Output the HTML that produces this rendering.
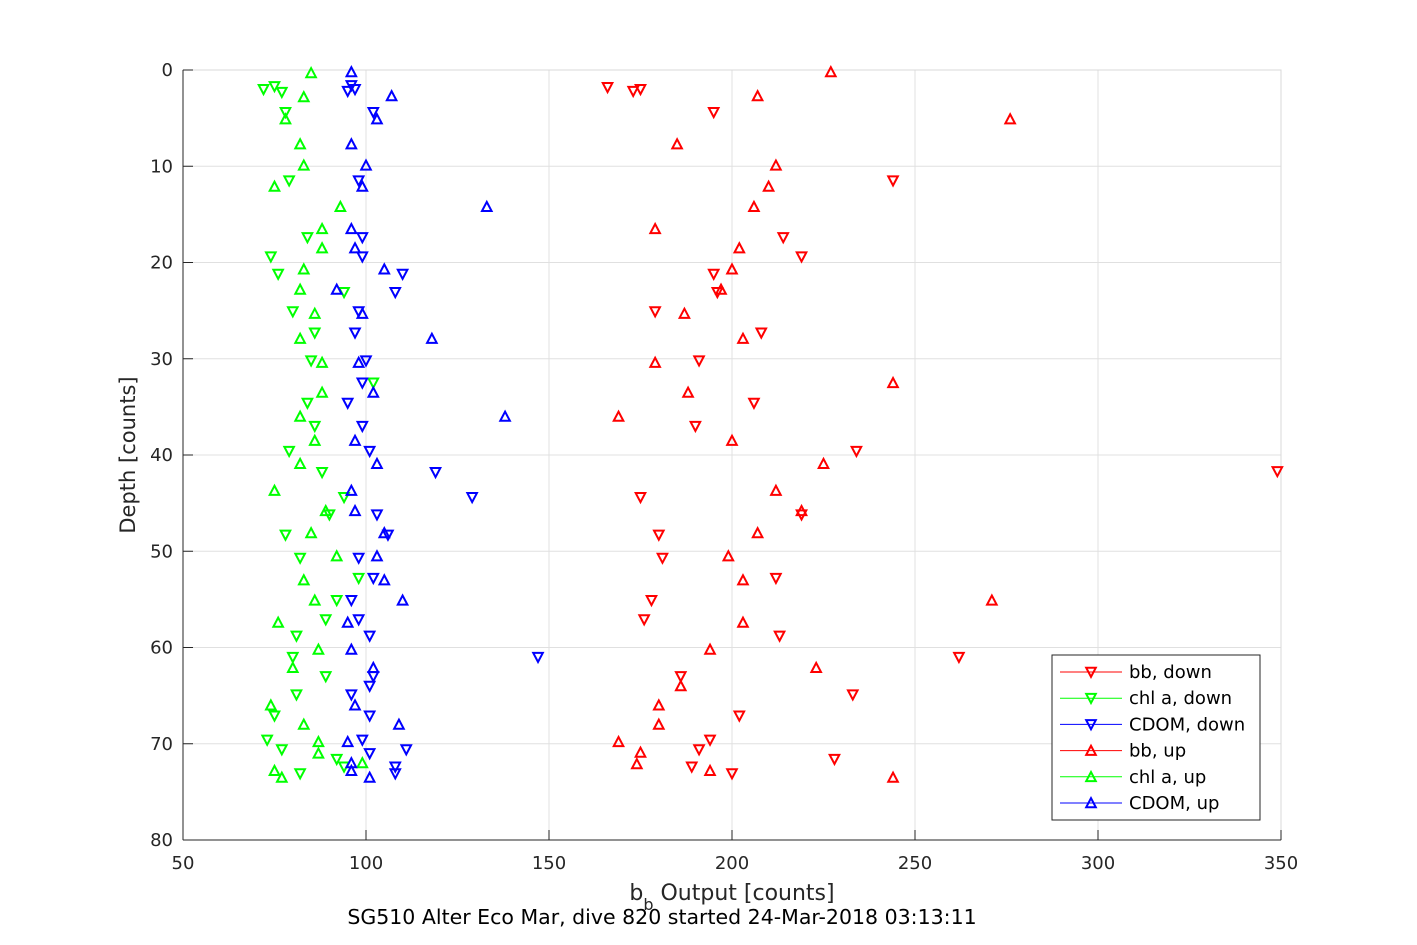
<!DOCTYPE html>
<html><head><meta charset="utf-8"><style>
body{margin:0;background:#fff}
svg{display:block;font-family:"DejaVu Sans","Liberation Sans",sans-serif}
</style></head><body>
<svg id="chart" width="1417" height="945">
<rect x="0" y="0" width="1417" height="945" fill="#fff"/>
<g id="grid"></g>
<rect x="183" y="70" width="1098" height="770" fill="none" stroke="#d8d8d8" stroke-width="1"/>
<line x1="183" y1="70" x2="183" y2="840" stroke="#262626"/>
<line x1="183" y1="840" x2="1281" y2="840" stroke="#262626"/>
<g id="ticks"></g>
<g id="marks"></g>
<text x="732" y="900" font-size="22" text-anchor="middle" fill="#262626">b<tspan font-size="16" dy="10">b</tspan><tspan dy="-10"> Output [counts]</tspan></text>
<text x="662" y="924" font-size="20.5" text-anchor="middle" fill="#000">SG510 Alter Eco Mar, dive 820 started 24-Mar-2018 03:13:11</text>
<text transform="translate(135,455) rotate(-90)" font-size="21" text-anchor="middle" fill="#262626">Depth [counts]</text>
<g id="legend"></g>
</svg>
<script>
const xTicks=[50,100,150,200,250,300,350];
const yTicks=[0,10,20,30,40,50,60,70,80];
const seriesNames=["bb, down","chl a, down","CDOM, down","bb, up","chl a, up","CDOM, up"];
const seriesColors=["#ff0000","#00ff00","#0000ff","#ff0000","#00ff00","#0000ff"];
const bbDownX=[166,173,175,195,244,214,219,195,196,179,208,191,206,190,234,175,219,180,181,212,178,176,213,262,186,233,202,194,191,228,189,200,349];
const bbDownY=[1.8,2.2,2,4.4,11.5,17.4,19.4,21.2,23.1,25.1,27.3,30.2,34.6,37,39.6,44.4,46.2,48.3,50.7,52.8,55.1,57.1,58.8,61,63,64.9,67.1,69.6,70.6,71.6,72.4,73.1,41.7];
const chlDownX=[72,75,77,78,79,84,74,76,94,80,86,85,102,84,86,79,88,94,90,78,82,98,92,89,81,80,89,81,75,73,77,92,94,82];
const chlDownY=[2,1.7,2.3,4.4,11.5,17.4,19.4,21.2,23.1,25.1,27.3,30.2,32.5,34.6,37,39.6,41.8,44.4,46.2,48.3,50.7,52.8,55.1,57.1,58.8,61,63,64.9,67.1,69.6,70.6,71.6,72.4,73.1];
const cdomDownX=[96,95,97,102,98,99,99,110,108,98,97,100,99,95,99,101,119,129,103,106,98,102,96,98,101,147,102,101,96,101,99,111,101,108,108];
const cdomDownY=[1.6,2.2,2,4.4,11.5,17.4,19.4,21.2,23.1,25.1,27.3,30.2,32.5,34.6,37,39.6,41.8,44.4,46.2,48.3,50.7,52.8,55.1,57.1,58.8,61,63,64,64.9,67.1,69.6,70.6,71,72.4,73.1];
const bbUpX=[227,207,276,185,212,210,206,179,202,200,197,187,203,179,244,188,169,200,225,212,219,207,199,203,271,203,194,223,186,180,180,169,175,174,194,244];
const bbUpY=[0.2,2.7,5.1,7.7,9.9,12.1,14.2,16.5,18.5,20.7,22.8,25.3,27.9,30.4,32.5,33.5,36,38.5,40.9,43.7,45.8,48.1,50.5,53,55.1,57.4,60.2,62.1,64,66,68,69.8,70.9,72.1,72.8,73.5];
const chlUpX=[85,83,78,82,83,75,93,88,88,83,82,86,82,88,88,82,86,82,75,89,85,92,83,86,76,87,80,74,83,87,87,99,75,77];
const chlUpY=[0.3,2.8,5.1,7.7,9.9,12.1,14.2,16.5,18.5,20.7,22.8,25.3,27.9,30.4,33.5,36,38.5,40.9,43.7,45.8,48.1,50.5,53,55.1,57.4,60.2,62.1,66,68,69.8,71,72,72.8,73.5];
const cdomUpX=[96,107,103,96,100,99,133,96,97,105,92,99,118,98,102,138,97,103,96,97,105,103,105,110,95,96,102,97,109,95,96,96,101];
const cdomUpY=[0.2,2.7,5.1,7.7,9.9,12.1,14.2,16.5,18.5,20.7,22.8,25.3,27.9,30.4,33.5,36,38.5,40.9,43.7,45.8,48.1,50.5,53,55.1,57.4,60.2,62.1,66,68,69.8,72,72.8,73.5];

const NS="http://www.w3.org/2000/svg";
const X0=183,X1=1281,Y0=70,Y1=840;
const sx=v=>X0+(v-50)/300*(X1-X0);
const sy=v=>Y0+v/80*(Y1-Y0);
function mk(tag,attrs,parent){const e=document.createElementNS(NS,tag);for(const k in attrs)e.setAttribute(k,attrs[k]);parent.appendChild(e);return e;}
const grid=document.getElementById('grid'),ticks=document.getElementById('ticks'),marks=document.getElementById('marks'),legend=document.getElementById('legend');
xTicks.forEach(t=>{const x=sx(t);
 const g=mk('line',{x1:x,x2:x,y1:Y0,y2:Y1,stroke:'#e0e0e0'},grid);
 
 
 mk('line',{x1:x,x2:x,y1:Y1,y2:Y1-10,stroke:'#262626'},ticks);
 const l=mk('text',{x:x,y:Y1+29,'font-size':18,'text-anchor':'middle',fill:'#262626'},ticks);l.textContent=t;
 
 });
yTicks.forEach(t=>{const y=sy(t);
 const g=mk('line',{x1:X0,x2:X1,y1:y,y2:y,stroke:'#e0e0e0'},grid);
 
 
 mk('line',{x1:X0,x2:X0+10,y1:y,y2:y,stroke:'#262626'},ticks);
 const l=mk('text',{x:X0-10,y:y+6,'font-size':18,'text-anchor':'end',fill:'#262626'},ticks);l.textContent=t;
 
 });
function tri(cx,cy,down){const s=4.8;return down?`${cx-s},${cy-s+0.5} ${cx+s},${cy-s+0.5} ${cx},${cy+s}`:`${cx-s},${cy+s-0.5} ${cx+s},${cy+s-0.5} ${cx},${cy-s}`;}
const series=[[bbDownX,bbDownY,true],[chlDownX,chlDownY,true],[cdomDownX,cdomDownY,true],[bbUpX,bbUpY,false],[chlUpX,chlUpY,false],[cdomUpX,cdomUpY,false]];
series.forEach((s,i)=>{const [xs,ys,down]=s;
 xs.forEach((v,j)=>{const p=mk('polygon',{points:tri(sx(v),sy(ys[j]),down),fill:'none',stroke:seriesColors[i],'stroke-width':2},marks);
  
  });});
const lb=mk('rect',{x:1052,y:655,width:208,height:165,fill:'#fff',stroke:'#262626'},legend);


seriesNames.forEach((n,i)=>{const y=672+i*26.2;
 mk('line',{x1:1060,x2:1122,y1:y,y2:y,stroke:seriesColors[i],'stroke-width':1},legend);
 mk('polygon',{points:tri(1091,y,i<3),fill:'none',stroke:seriesColors[i],'stroke-width':2},legend);
 const t=mk('text',{x:1129,y:y+6,'font-size':18,fill:'#000'},legend);t.textContent=n;
 
 });
</script>
</body></html>
